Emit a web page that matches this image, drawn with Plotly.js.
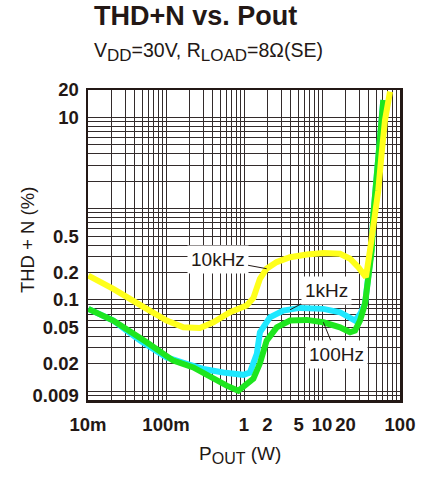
<!DOCTYPE html>
<html>
<head>
<meta charset="utf-8">
<script src="https://cdn.plot.ly/plotly-3.0.1.min.js"></script>
<style>html,body{margin:0;padding:0;background:#fff;}#chart{width:427px;height:480px;}</style>
</head>
<body>
<div id="chart"></div>
<script>
// ---- data (Pout in W, THD+N in %) ----
const pout10k = [0.0101, 0.0211, 0.0566, 0.102, 0.167, 0.273, 0.404, 0.662, 1.08, 1.32, 1.60, 1.95, 2.63, 3.89, 6.37, 10.4, 17.0, 22.9, 29.2, 36.6, 41.2, 45.5, 52.7, 58.2, 64.2, 74.5];
const thd10k  = [0.185, 0.132, 0.0798, 0.0594, 0.0501, 0.0493, 0.0569, 0.0733, 0.0867, 0.105, 0.17, 0.22, 0.26, 0.294, 0.315, 0.326, 0.321, 0.283, 0.229, 0.178, 0.349, 0.65, 1.59, 4.06, 9.35, 19.2];

const pout1k = [0.0101, 0.0211, 0.0465, 0.102, 0.184, 0.301, 0.543, 0.98, 1.19, 1.46, 1.60, 2.15, 3.19, 3.89, 5.22, 10.4, 17.0, 26.5, 30.7, 35.6, 39.3, 43.4, 45.5, 50.2, 55.5, 61.1];
const thd1k  = [0.0798, 0.0594, 0.0358, 0.0234, 0.0199, 0.0175, 0.0160, 0.0151, 0.0160, 0.0256, 0.044, 0.0645, 0.0764, 0.078, 0.0818, 0.0798, 0.0733, 0.0594, 0.0697, 0.0906, 0.178, 0.38, 0.846, 2.05, 4.76, 15.5];

const pout100 = [0.0101, 0.0211, 0.0566, 0.124, 0.224, 0.404, 0.600, 0.846, 1.08, 1.32, 1.60, 1.95, 2.63, 3.89, 6.37, 10.4, 17.0, 22.9, 26.5, 30.7, 35.6, 39.3, 43.4, 45.5, 50.2, 55.5, 61.1];
const thd100  = [0.0798, 0.0594, 0.0343, 0.0216, 0.0182, 0.0136, 0.0115, 0.0101, 0.0120, 0.0137, 0.0202, 0.0358, 0.0501, 0.0594, 0.0604, 0.0569, 0.0501, 0.0442, 0.0461, 0.0594, 0.0906, 0.178, 0.349, 0.846, 2.05, 4.76, 15.5];

const seriesNames = ['1kHz', '100Hz', '10kHz'];

// ---- tick labels ----
const xLabelVals = [0.01, 0.1, 1, 2, 5, 10, 20, 100];
const xLabelText = ['10m', '100m', '1', '2', '5', '10', '20', '100'];
const yLabelVals = [20, 10, 0.5, 0.2, 0.1, 0.05, 0.02, 0.009];
const yLabelText = ['20', '10', '0.5', '0.2', '0.1', '0.05', '0.02', '0.009'];

// grid positions: every 1..9 x decade
function gridVals(lo, hi) {
  const v = [];
  for (let e = -4; e <= 3; e++) {
    for (let k = 1; k <= 9; k++) {
      const val = +(k * Math.pow(10, e)).toPrecision(6);
      if (val >= lo * 0.999 && val <= hi * 1.001) v.push(val);
    }
  }
  return v;
}
function labelsFor(vals, lv, lt) {
  return vals.map(v => {
    const i = lv.findIndex(x => Math.abs(x - v) / v < 1e-6);
    return i >= 0 ? lt[i] : '';
  });
}
const xGrid = gridVals(0.01, 100);
const yGrid = gridVals(0.008, 20).concat([20]);

const FONT = 'Liberation Sans, Arial, Helvetica, sans-serif';
const INK = '#231815';

const traces = [
  {x: pout1k, y: thd1k, name: seriesNames[0], mode: 'lines', line: {color: '#1EE8FF', width: 6}},
  {x: pout100, y: thd100, name: seriesNames[1], mode: 'lines', line: {color: '#1EE61E', width: 6}},
  {x: pout10k, y: thd10k, name: seriesNames[2], mode: 'lines', line: {color: '#FFFF1A', width: 6}}
];

const L = Math.log10;
const i10k = pout10k.indexOf(1.95);
const i1k = pout1k.indexOf(3.89);
const i100 = pout100.indexOf(10.4);

const layout = {
  width: 427, height: 480,
  margin: {l: 88, r: 27, t: 90, b: 80},
  paper_bgcolor: '#fff', plot_bgcolor: '#fff',
  showlegend: false,
  font: {family: FONT, color: INK},
  xaxis: {
    type: 'log', range: [L(0.01), L(100)],
    tickmode: 'array', tickvals: xGrid, ticktext: labelsFor(xGrid, xLabelVals, xLabelText),
    showgrid: true, gridcolor: '#332b2b', gridwidth: 1,
    ticks: '', ticklabelstandoff: 6, showline: true, mirror: true, linecolor: INK, linewidth: 2.5,
    tickfont: {family: FONT, size: 18.5, color: INK, weight: 'bold'},
    zeroline: false, fixedrange: true
  },
  yaxis: {
    type: 'log', range: [L(0.008), L(20)],
    tickmode: 'array', tickvals: yGrid, ticktext: labelsFor(yGrid, yLabelVals, yLabelText),
    showgrid: true, gridcolor: '#332b2b', gridwidth: 1,
    ticks: '', ticklabelstandoff: 3, showline: true, mirror: true, linecolor: INK, linewidth: 2.5,
    tickfont: {family: FONT, size: 18.5, color: INK, weight: 'bold'},
    zeroline: false, fixedrange: true
  },
  annotations: [
    {xref: 'paper', yref: 'paper', x: 0.0128, y: 1.2387, xanchor: 'left', yanchor: 'middle', showarrow: false,
     text: '<b>THD+N vs. Pout</b>', font: {family: FONT, size: 27, color: INK}},
    {xref: 'paper', yref: 'paper', x: 0.0128, y: 1.122, xanchor: 'left', yanchor: 'middle', showarrow: false,
     text: 'V<sub><span style="font-size:17px">DD</span></sub>=30V, R<sub><span style="font-size:17px">LOAD</span></sub>=8Ω(SE)',
     font: {family: FONT, size: 19.5, color: INK}},
    {xref: 'paper', yref: 'paper', x: -0.1955, y: 0.516, xanchor: 'center', yanchor: 'middle', showarrow: false,
     textangle: -90, text: 'THD + N (%)', font: {family: FONT, size: 18.5, color: INK}},
    {xref: 'paper', yref: 'paper', x: 0.487, y: -0.177, xanchor: 'center', yanchor: 'middle', showarrow: false,
     text: 'P<sub><span style="font-size:16px">OUT</span></sub> (W)', font: {family: FONT, size: 19, color: INK}},
    {x: L(pout10k[i10k]), y: L(thd10k[i10k]), xref: 'x', yref: 'y', text: seriesNames[2],
     showarrow: true, arrowhead: 0, arrowwidth: 1, arrowcolor: INK, ax: -49, ay: -9,
     bgcolor: '#fff', borderpad: 3, font: {family: FONT, size: 19, color: INK}},
    {x: L(pout1k[i1k]), y: L(thd1k[i1k]), xref: 'x', yref: 'y', text: seriesNames[0],
     showarrow: true, arrowhead: 0, arrowwidth: 1, arrowcolor: INK, ax: 36, ay: -19,
     bgcolor: '#fff', borderpad: 3, font: {family: FONT, size: 19, color: INK}},
    {x: L(pout100[i100]), y: L(thd100[i100]), xref: 'x', yref: 'y', text: seriesNames[1],
     showarrow: true, arrowhead: 0, arrowwidth: 1, arrowcolor: INK, ax: 13, ay: 32,
     bgcolor: '#fff', borderpad: 3, font: {family: FONT, size: 19, color: INK}}
  ]
};

Plotly.newPlot('chart', traces, layout, {staticPlot: true, displayModeBar: false});
</script>
</body>
</html>
